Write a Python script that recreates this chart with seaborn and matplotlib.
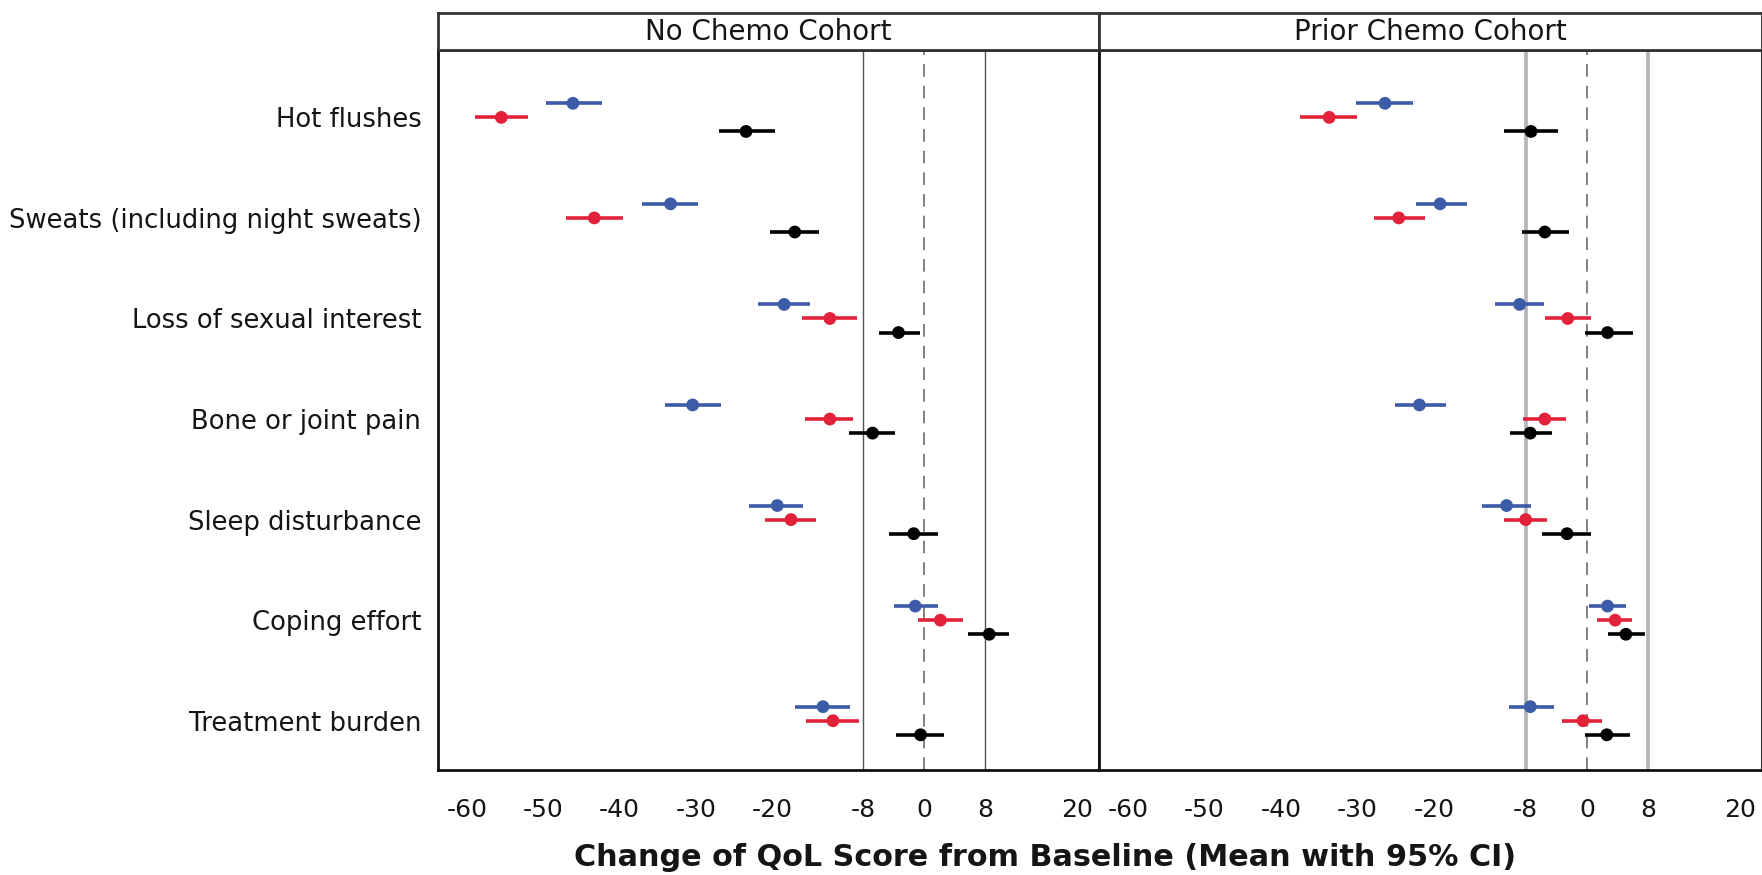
import numpy as np
import pandas as pd
import matplotlib
matplotlib.use("Agg")
import matplotlib.pyplot as plt
import seaborn as sns

# ---------------- data ----------------
categories = ["Hot flushes", "Sweats (including night sweats)", "Loss of sexual interest",
              "Bone or joint pain", "Sleep disturbance", "Coping effort", "Treatment burden"]
cohorts = ["No Chemo Cohort", "Prior Chemo Cohort"]
series = ["Series A", "Series B", "Series C"]          # blue, red, black
xticks = [-60, -50, -40, -30, -20, -8, 0, 8, 20]
ref_lines = [-8, 8]

# No Chemo cohort
nc_a_mean = [-46.1, -33.3, -18.4, -30.4, -19.3, -1.2, -13.3]
nc_a_low  = [-49.6, -37.0, -21.8, -34.0, -23.0, -4.0, -17.0]
nc_a_high = [-42.3, -29.7, -15.0, -26.7, -15.9, 1.8, -9.7]
nc_b_mean = [-55.5, -43.3, -12.4, -12.4, -17.5, 2.1, -12.0]
nc_b_low  = [-59.0, -47.0, -16.1, -15.7, -20.9, -0.8, -15.5]
nc_b_high = [-52.0, -39.5, -8.8, -9.4, -14.2, 5.0, -8.6]
nc_c_mean = [-23.4, -17.0, -3.4, -6.8, -1.4, 8.5, -0.5]
nc_c_low  = [-27.0, -20.2, -6.0, -9.9, -4.6, 5.7, -3.7]
nc_c_high = [-19.6, -13.8, -0.6, -3.8, 1.8, 11.1, 2.6]

# Prior Chemo cohort
pc_a_mean = [-26.4, -19.2, -8.8, -21.9, -10.5, 2.7, -7.4]
pc_a_low  = [-30.2, -22.4, -12.0, -25.1, -13.7, 0.3, -10.2]
pc_a_high = [-22.8, -15.7, -5.6, -18.4, -7.3, 5.1, -4.3]
pc_b_mean = [-33.7, -24.6, -2.5, -5.5, -8.0, 3.7, -0.5]
pc_b_low  = [-37.5, -27.8, -5.5, -8.4, -10.8, 1.3, -3.2]
pc_b_high = [-30.0, -21.2, 0.6, -2.7, -5.2, 5.9, 2.0]
pc_c_mean = [-7.3, -5.5, 2.7, -7.4, -2.6, 5.1, 2.6]
pc_c_low  = [-10.9, -8.5, -0.3, -10.0, -5.9, 2.7, -0.2]
pc_c_high = [-3.8, -2.3, 6.0, -4.6, 0.6, 7.6, 5.6]

# ---------------- build long table ----------------
table = {
    ("No Chemo Cohort", "Series A"): (nc_a_mean, nc_a_low, nc_a_high),
    ("No Chemo Cohort", "Series B"): (nc_b_mean, nc_b_low, nc_b_high),
    ("No Chemo Cohort", "Series C"): (nc_c_mean, nc_c_low, nc_c_high),
    ("Prior Chemo Cohort", "Series A"): (pc_a_mean, pc_a_low, pc_a_high),
    ("Prior Chemo Cohort", "Series B"): (pc_b_mean, pc_b_low, pc_b_high),
    ("Prior Chemo Cohort", "Series C"): (pc_c_mean, pc_c_low, pc_c_high),
}
offsets = {"Series A": -0.14, "Series B": 0.0, "Series C": 0.14}
palette = {"Series A": "#3d5ca8", "Series B": "#e2223a", "Series C": "#000000"}

rows = []
for (coh, ser), (m, lo, hi) in table.items():
    for i, cat in enumerate(categories):
        rows.append(dict(cohort=coh, series=ser, category=cat, mean=m[i], low=lo[i], high=hi[i],
                         ypos=i + offsets[ser]))
df = pd.DataFrame(rows)

# ---------------- figure ----------------
sns.set_style("white")
plt.rcParams["font.family"] = ["DejaVu Sans"]

W, H = 1762, 875
fig = plt.figure(figsize=(W / 100, H / 100), dpi=100)

def fx(px):
    return px / W

def fy(py):
    return 1 - py / H

ax_top, ax_bot = 50, 770
strip_top = 13
panels = [(438, 1099), (1099, 1762)]
txt = "#151515"

for k, coh in enumerate(cohorts):
    l, r = panels[k]
    ax = fig.add_axes([fx(l), fy(ax_bot), fx(r - l), fy(ax_top) - fy(ax_bot)])
    sub = df[df["cohort"] == coh]

    # reference lines
    if k == 0:
        for v in ref_lines:
            ax.axvline(v, color="#555555", lw=1.0, zorder=1)
    else:
        for v in ref_lines:
            ax.axvline(v, color="#b3b3b3", lw=2.6, zorder=1)
    ax.axvline(0, color="#777777", lw=1.3, dashes=(7, 5), zorder=1)

    # confidence intervals
    for ser in series:
        s = sub[sub["series"] == ser]
        ax.hlines(s["ypos"], s["low"], s["high"], color=palette[ser], lw=2.6, zorder=2)

    sns.scatterplot(data=sub, x="mean", y="ypos", hue="series", palette=palette,
                    s=85, edgecolor="none", legend=False, ax=ax, zorder=3)

    ax.set_xlim(-63.8, 22.9)
    ax.set_ylim(6.49, -0.67)
    ax.set_xticks(xticks)
    ax.set_xticklabels([str(t) for t in xticks], fontsize=18, color=txt)
    ax.tick_params(axis="x", direction="out", length=12, width=1.6, color="#333333", pad=8)
    ax.set_xlabel("")
    ax.set_ylabel("")
    if k == 0:
        ax.set_yticks(range(len(categories)))
        ax.set_yticklabels(categories, fontsize=18.6, color=txt)
        ax.tick_params(axis="y", length=0, pad=12)
    else:
        ax.set_yticks([])
    for sp in ax.spines.values():
        sp.set_visible(True)
        sp.set_color("#111111")
        sp.set_linewidth(2.0)

    # strip header
    sax = fig.add_axes([fx(l), fy(ax_top), fx(r - l), fy(strip_top) - fy(ax_top)])
    sax.set_xticks([])
    sax.set_yticks([])
    sax.set_facecolor("white")
    for sp in sax.spines.values():
        sp.set_visible(True)
        sp.set_color("#333333")
        sp.set_linewidth(2.0)
    sax.text(0.5, 0.5, coh, ha="center", va="center", fontsize=20, color=txt,
             transform=sax.transAxes)

fig.text(fx(1045), fy(857), "Change of QoL Score from Baseline (Mean with 95% CI)",
         ha="center", va="center", fontsize=21.8, fontweight="bold", color=txt)

fig.savefig("out.png", dpi=100)
